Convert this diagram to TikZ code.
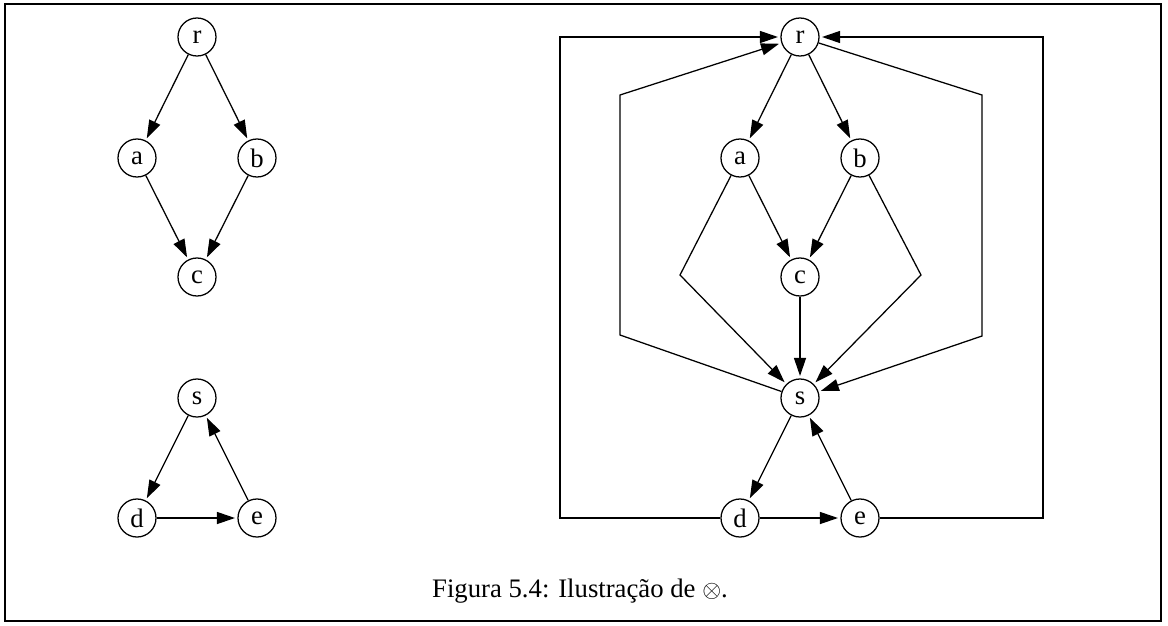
\documentclass[tikz,border=0pt]{standalone}
\usepackage{fontspec}
\setmainfont{Liberation Serif}
\usepackage{amssymb}
\usetikzlibrary{arrows.meta}

\begin{document}
\begin{tikzpicture}[x=0.025cm, y=-0.025cm, >={Triangle[length=0.45cm,width=0.3cm]},
    vertex/.style={draw, circle, minimum size=0.95cm, inner sep=0pt, line width=0.9pt, font=\fontsize{19}{19}\selectfont},
    every path/.style={line width=0.9pt, shorten >=0.06cm}]
  \useasboundingbox (0,0) rectangle (1168,625);
  \draw[line width=1.5pt] (5,4) rectangle (1161,621);
  % left: the two graphs
  \node[vertex] (r) at (197,37) {r};
  \node[vertex] (a) at (137,158) {a};
  \node[vertex] (b) at (257,158) {b};
  \node[vertex] (c) at (197,277) {c};
  \node[vertex] (s) at (197,398) {s};
  \node[vertex] (d) at (137,518) {d};
  \node[vertex] (e) at (257,518) {e};
  \draw[->] (r) -- (a);
  \draw[->] (r) -- (b);
  \draw[->] (a) -- (c);
  \draw[->] (b) -- (c);
  \draw[->] (s) -- (d);
  \draw[->] (d) -- (e);
  \draw[->] (e) -- (s);
  % right: the product
  \node[vertex] (r2) at (800,37) {r};
  \node[vertex] (a2) at (740,158) {a};
  \node[vertex] (b2) at (860,158) {b};
  \node[vertex] (c2) at (800,277) {c};
  \node[vertex] (s2) at (800,398) {s};
  \node[vertex] (d2) at (740,518) {d};
  \node[vertex] (e2) at (860,518) {e};
  \coordinate (ol) at (560,37);
  \coordinate (or) at (1043,37);
  \draw[->] (r2) -- (a2);
  \draw[->] (r2) -- (b2);
  \draw[->] (a2) -- (c2);
  \draw[->] (b2) -- (c2);
  \draw[->] (c2) -- (s2);
  \draw[->] (a2) -- (680,275) -- (s2);
  \draw[->] (b2) -- (921,275) -- (s2);
  \draw[->] (s2) -- (620,335) -- (620,95) -- (r2);
  \draw[->] (r2) -- (982,95) -- (982,336) -- (s2);
  \draw[->] (s2) -- (d2);
  \draw[->] (d2) -- (e2);
  \draw[->] (e2) -- (s2);
  \draw[->] (d2) -- (d2 -| ol) -- (ol) -- (r2);
  \draw[->] (e2) -- (e2 -| or) -- (or) -- (r2);
  \node (cap) at (580,591) {\fontsize{19}{19}\selectfont Figura 5.4: Ilustração de $\otimes$.};
\end{tikzpicture}
\end{document}
